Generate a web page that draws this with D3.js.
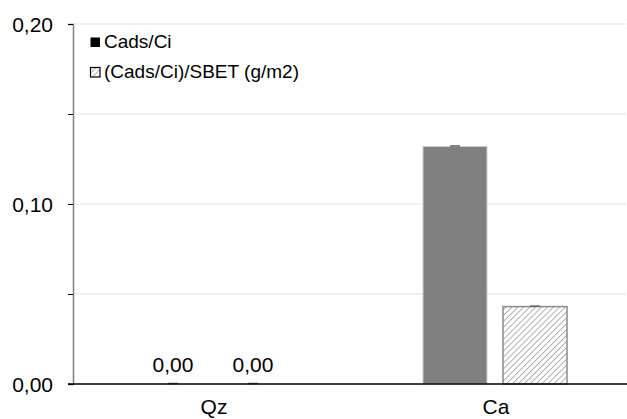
<!DOCTYPE html>
<html>
<head>
<meta charset="utf-8">
<script src="https://cdn.jsdelivr.net/npm/d3@7"></script>
<style>
  body { margin: 0; background: #fff; }
  text { font-family: "Liberation Sans", Arial, sans-serif; fill: #000; }
</style>
</head>
<body>
<div id="chart"></div>
<script>
const categories = ["Qz", "Ca"];
const seriesNames = ["Cads/Ci", "(Cads/Ci)/SBET (g/m2)"];
const cadsCi = [0.0, 0.132];
const cadsCiSbet = [0.0, 0.043];
const yTicks = [0, 0.05, 0.10, 0.15, 0.20];
const yLabels = [0, 0.10, 0.20];

const width = 627, height = 419;
const x0 = 73, x1 = 637, yTop = 24, yBottom = 384;

const svg = d3.select("#chart")
    .append("svg")
    .attr("width", width)
    .attr("height", height);

const defs = svg.append("defs");
const hatch = defs.append("pattern")
    .attr("id", "hatch")
    .attr("patternUnits", "userSpaceOnUse")
    .attr("width", 4.2)
    .attr("height", 4.2)
    .attr("patternTransform", "rotate(45)");
hatch.append("rect").attr("width", 4.2).attr("height", 4.2).attr("fill", "#fff");
hatch.append("line")
    .attr("x1", 0).attr("y1", 0).attr("x2", 0).attr("y2", 4.2)
    .attr("stroke", "#a8a8a8")
    .attr("stroke-width", 1.8);

const x = d3.scaleBand().domain(categories).range([x0, x1]).paddingInner(0).paddingOuter(0);
const xs = d3.scaleBand().domain([0, 1]).range([68, 212]).paddingInner(0.2);
const y = d3.scaleLinear().domain([0, 0.2]).range([yBottom, yTop]);
const fmt = v => d3.format(".2f")(v).replace(".", ",");

// gridlines
svg.append("g")
    .selectAll("line")
    .data(yTicks.filter(d => d > 0))
    .enter()
    .append("line")
    .attr("x1", x0)
    .attr("x2", 626)
    .attr("y1", d => y(d))
    .attr("y2", d => y(d))
    .attr("stroke", "#ededed")
    .attr("stroke-width", 1.5);

// y axis
const yAxis = svg.append("g")
    .attr("transform", `translate(${x0},0)`)
    .call(d3.axisLeft(y).tickValues(yTicks).tickSize(5).tickFormat(d => yLabels.includes(d) ? fmt(d) : ""));
yAxis.select(".domain").attr("stroke", "#7f7f7f").attr("stroke-width", 1.5);
yAxis.selectAll(".tick line").attr("stroke", "#000");
yAxis.selectAll(".tick text")
    .attr("x", -20)
    .attr("dy", "0.34em")
    .style("font-size", "21px")
    .style("font-family", "Liberation Sans, Arial, sans-serif")
    .attr("fill", "#000");

// bars
const rows = categories.map((c, i) => ({ cat: c, values: [cadsCi[i], cadsCiSbet[i]] }));
const group = svg.append("g")
    .selectAll("g")
    .data(rows)
    .enter()
    .append("g")
    .attr("transform", d => `translate(${x(d.cat)},0)`);

group.selectAll("rect")
    .data(d => d.values.map((v, k) => ({ v, k })))
    .enter()
    .append("rect")
    .attr("x", d => xs(d.k))
    .attr("width", xs.bandwidth())
    .attr("y", d => y(d.v))
    .attr("height", d => yBottom - y(d.v))
    .attr("fill", d => d.k === 0 ? "#808080" : "url(#hatch)")
    .attr("stroke", d => d.k === 0 ? "#d0d0d0" : "#8a8a8a")
    .attr("stroke-width", d => d.k === 0 ? 1 : 1.5)
    .attr("opacity", d => d.v > 0 ? 1 : 0);

// small caps on bar tops
group.selectAll("line.cap")
    .data(d => d.values.map((v, k) => ({ v, k })))
    .enter()
    .append("line")
    .attr("class", "cap")
    .attr("x1", d => xs(d.k) + xs.bandwidth() / 2 - 5)
    .attr("x2", d => xs(d.k) + xs.bandwidth() / 2 + 5)
    .attr("y1", d => y(d.v) - 0.5)
    .attr("y2", d => y(d.v) - 0.5)
    .attr("stroke", "#666")
    .attr("stroke-width", 1.5);

// value labels (only on Qz)
group.filter(d => d.cat === "Qz")
    .selectAll("text")
    .data(d => d.values.map((v, k) => ({ v, k })))
    .enter()
    .append("text")
    .attr("x", d => xs(d.k) + xs.bandwidth() / 2)
    .attr("y", d => y(d.v) - 12)
    .attr("text-anchor", "middle")
    .style("font-size", "21px")
    .text(d => fmt(d.v));

// x axis
svg.append("line")
    .attr("x1", 68)
    .attr("x2", width)
    .attr("y1", yBottom)
    .attr("y2", yBottom)
    .attr("stroke", "#000")
    .attr("stroke-width", 1.5);

svg.append("g")
    .selectAll("text")
    .data(categories)
    .enter()
    .append("text")
    .attr("x", d => x(d) + x.bandwidth() / 2)
    .attr("y", 414)
    .attr("text-anchor", "middle")
    .style("font-size", "21px")
    .text(d => d);

// legend
const legend = svg.append("g")
    .selectAll("g")
    .data(seriesNames)
    .enter()
    .append("g")
    .attr("transform", (d, i) => `translate(90,${37 + i * 30})`);

legend.append("rect")
    .attr("x", 0.5)
    .attr("y", 0.5)
    .attr("width", 9.5)
    .attr("height", 9.5)
    .attr("fill", (d, i) => i === 0 ? "#000" : "url(#hatch)")
    .attr("stroke", "#000")
    .attr("stroke-width", (d, i) => i === 0 ? 0 : 1.2);

legend.append("text")
    .attr("x", 14)
    .attr("y", 11)
    .style("font-size", "19px")
    .text(d => d);
</script>
</body>
</html>
